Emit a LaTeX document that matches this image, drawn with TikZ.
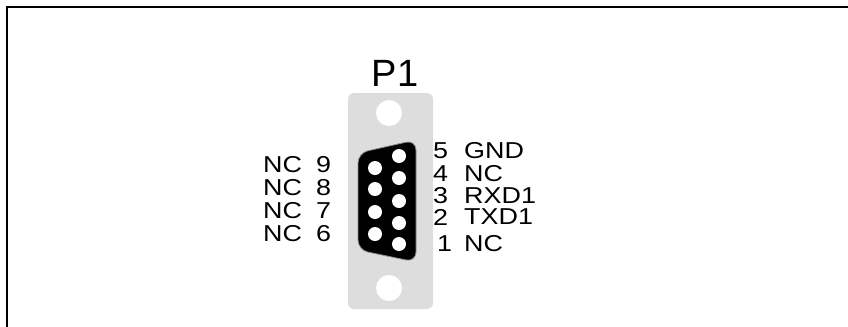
\documentclass[tikz,border=0pt]{standalone}
\usepackage{fontspec}
\usepackage{graphicx}
\setmainfont{Liberation Sans}
\definecolor{plategray}{RGB}{221,221,221}
\newcommand{\wlbl}[1]{\scalebox{1.17}[1]{#1}}
\begin{document}
\begin{tikzpicture}[x=1bp,y=-1bp,
  lbl/.style={anchor=west,inner sep=0pt,font=\fontsize{23bp}{23bp}\selectfont},
  pinhole/.style={circle,fill=white,inner sep=0pt,minimum size=14bp},
  mounthole/.style={circle,fill=white,inner sep=0pt,minimum size=26bp}]
\useasboundingbox (0,0) rectangle (848,326);
% frame
\draw[line width=2bp] (7,330) -- (7,7) -- (850,7);
% title
\node[inner sep=0pt,font=\fontsize{38bp}{38bp}\selectfont] (title) at (395,73.5) {P1};
% plate
\fill[plategray,rounded corners=6bp] (348,93) rectangle (433,309);
\node[mounthole] (holetop) at (389,113) {};
\node[mounthole] (holebot) at (389,288) {};
% D shell
\fill[black,draw=black!45,line width=0.8bp,rounded corners=10bp] (358,153) -- (416,140) -- (416,262) -- (358,250) -- cycle;
% pins
\node[pinhole] (p5) at (399,156) {};
\node[pinhole] (p4) at (399,178) {};
\node[pinhole] (p3) at (399,201) {};
\node[pinhole] (p2) at (399,223) {};
\node[pinhole] (p1) at (399,244) {};
\node[pinhole] (p9) at (375,168) {};
\node[pinhole] (p8) at (375,189) {};
\node[pinhole] (p7) at (375,212) {};
\node[pinhole] (p6) at (375,234) {};
% left labels
\node[lbl] (l9a) at (263,165) {\wlbl{NC}};
\node[lbl] (l9b) at (316,165) {\wlbl{9}};
\node[lbl] (l8a) at (263,188) {\wlbl{NC}};
\node[lbl] (l8b) at (316,188) {\wlbl{8}};
\node[lbl] (l7a) at (263,211) {\wlbl{NC}};
\node[lbl] (l7b) at (316,211) {\wlbl{7}};
\node[lbl] (l6a) at (263,234) {\wlbl{NC}};
\node[lbl] (l6b) at (316,234) {\wlbl{6}};
% right labels
\node[lbl] (r5a) at (433,150.5) {\wlbl{5}};
\node[lbl] (r5b) at (464,150.5) {\wlbl{GND}};
\node[lbl] (r4a) at (433,174) {\wlbl{4}};
\node[lbl] (r4b) at (464,174) {\wlbl{NC}};
\node[lbl] (r3a) at (433,196) {\wlbl{3}};
\node[lbl] (r3b) at (464,196) {\wlbl{RXD1}};
\node[lbl] (r2a) at (433,217) {\wlbl{2}};
\node[lbl] (r2b) at (464,217) {\wlbl{TXD1}};
\node[lbl] (r1a) at (437,244) {\wlbl{1}};
\node[lbl] (r1b) at (464,244) {\wlbl{NC}};
\end{tikzpicture}
\end{document}
